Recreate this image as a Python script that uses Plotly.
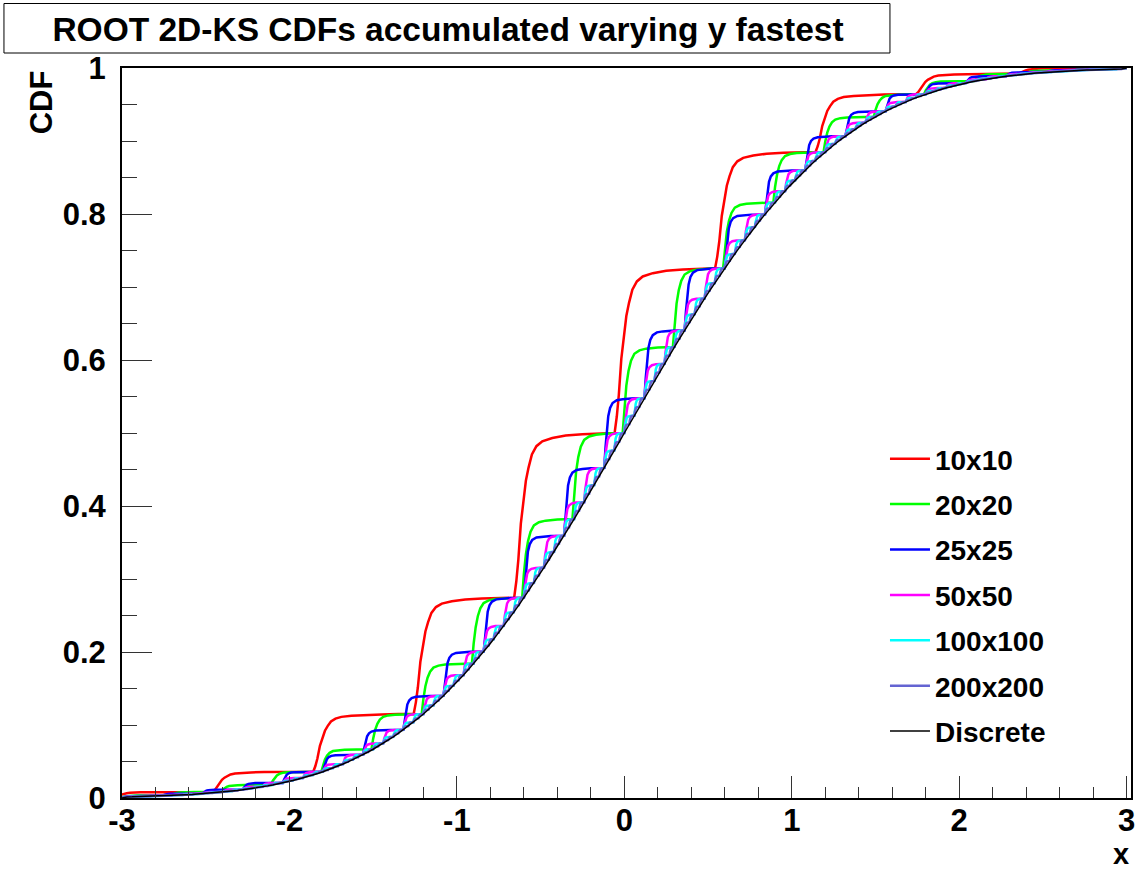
import numpy as np
import plotly.graph_objects as go

# ---------------- data ----------------
# Discrete CDF, sampled every 0.03 from x=-3 to x=3
disc_x = np.round(np.arange(201) * 0.03 - 3.0, 2)
disc_y = [
    0.0000, 0.0015, 0.0016, 0.0018, 0.0020, 0.0022, 0.0024, 0.0026, 0.0029, 0.0032,
    0.0035, 0.0038, 0.0041, 0.0045, 0.0049, 0.0054, 0.0059, 0.0064, 0.0069, 0.0075,
    0.0082, 0.0089, 0.0096, 0.0104, 0.0113, 0.0122, 0.0132, 0.0143, 0.0154, 0.0166,
    0.0179, 0.0192, 0.0207, 0.0222, 0.0239, 0.0256, 0.0274, 0.0294, 0.0314, 0.0336,
    0.0359, 0.0384, 0.0409, 0.0436, 0.0465, 0.0495, 0.0526, 0.0559, 0.0594, 0.0630,
    0.0668, 0.0708, 0.0749, 0.0793, 0.0838, 0.0885, 0.0934, 0.0985, 0.1038, 0.1093,
    0.1151, 0.1210, 0.1271, 0.1335, 0.1401, 0.1469, 0.1539, 0.1611, 0.1685, 0.1762,
    0.1841, 0.1922, 0.2005, 0.2090, 0.2177, 0.2266, 0.2358, 0.2451, 0.2546, 0.2643,
    0.2743, 0.2843, 0.2946, 0.3050, 0.3156, 0.3264, 0.3372, 0.3483, 0.3594, 0.3707,
    0.3821, 0.3936, 0.4052, 0.4168, 0.4286, 0.4404, 0.4522, 0.4641, 0.4761, 0.4880,
    0.5000,
    0.5120, 0.5239, 0.5359, 0.5478, 0.5596, 0.5714, 0.5832, 0.5948, 0.6064, 0.6179,
    0.6293, 0.6406, 0.6517, 0.6628, 0.6736, 0.6844, 0.6950, 0.7054, 0.7157, 0.7257,
    0.7357, 0.7454, 0.7549, 0.7642, 0.7734, 0.7823, 0.7910, 0.7995, 0.8078, 0.8159,
    0.8238, 0.8315, 0.8389, 0.8461, 0.8531, 0.8599, 0.8665, 0.8729, 0.8790, 0.8849,
    0.8907, 0.8962, 0.9015, 0.9066, 0.9115, 0.9162, 0.9207, 0.9251, 0.9292, 0.9332,
    0.9370, 0.9406, 0.9441, 0.9474, 0.9505, 0.9535, 0.9564, 0.9591, 0.9616, 0.9641,
    0.9664, 0.9686, 0.9706, 0.9726, 0.9744, 0.9761, 0.9778, 0.9793, 0.9808, 0.9821,
    0.9834, 0.9846, 0.9857, 0.9868, 0.9878, 0.9887, 0.9896, 0.9904, 0.9911, 0.9918,
    0.9925, 0.9931, 0.9936, 0.9941, 0.9946, 0.9951, 0.9955, 0.9959, 0.9962, 0.9965,
    0.9968, 0.9971, 0.9974, 0.9976, 0.9978, 0.9980, 0.9982, 0.9984, 0.9985, 1.0000,
]

series_names = ["10x10", "20x20", "25x25", "50x50", "100x100", "200x200"]
grid_sizes = [10, 20, 25, 50, 100, 200]

x_tick_vals = [-3, -2, -1, 0, 1, 2, 3]
x_tick_text = ["-3", "-2", "-1", "0", "1", "2", "3"]
y_tick_vals = [0, 0.2, 0.4, 0.6, 0.8, 1]
y_tick_text = ["0", "0.2", "0.4", "0.6", "0.8", "1"]

# shape of one accumulated step (offset from the bin edge, fraction of the step), read per series
step_dx = {
    "10x10":   [-0.058, -0.045, -0.033, -0.018, -0.003, 0.012, 0.028, 0.048, 0.075, 0.11, 0.17, 0.25, 0.35, 0.45],
    "20x20":   [-0.010, 0.000, 0.012, 0.025, 0.040, 0.060, 0.090, 0.130, 0.200],
    "25x25":   [0.000, 0.008, 0.015, 0.024, 0.035, 0.050, 0.075, 0.110, 0.160],
    "50x50":   [0.000, 0.006, 0.012, 0.020, 0.030, 0.045, 0.070],
    "100x100": [0.000, 0.004, 0.008, 0.014, 0.022, 0.035],
    "200x200": [0.000, 0.003, 0.006, 0.010, 0.016],
}
step_f = {
    "10x10":   [0.0, 0.10, 0.23, 0.45, 0.60, 0.71, 0.79, 0.87, 0.92, 0.95, 0.97, 0.985, 0.993, 0.998],
    "20x20":   [0.0, 0.30, 0.55, 0.72, 0.84, 0.92, 0.96, 0.98, 0.993],
    "25x25":   [0.0, 0.30, 0.55, 0.74, 0.86, 0.93, 0.97, 0.985, 0.995],
    "50x50":   [0.0, 0.35, 0.62, 0.80, 0.90, 0.96, 0.99],
    "100x100": [0.0, 0.40, 0.68, 0.85, 0.94, 0.98],
    "200x200": [0.0, 0.45, 0.72, 0.88, 0.96],
}

colors = {
    "10x10": "#ff0000", "20x20": "#00ff00", "25x25": "#0000ff",
    "50x50": "#ff00ff", "100x100": "#00ffff", "200x200": "#6464d2",
}

FONT = "Liberation Sans, Arial, Helvetica, sans-serif"


def step_curve(n, name):
    stride = 200 // n
    edges = disc_x[::stride]
    levels = disc_y[::stride]
    xs, ys = [], []
    for k in range(len(edges) - 1):
        lo, hi = levels[k], levels[k + 1]
        nxt = edges[k + 1] + step_dx[name][0] if k + 1 < len(edges) - 1 else edges[-1]
        for dx, f in zip(step_dx[name], step_f[name]):
            x = edges[k] + dx
            if x < nxt:
                xs.append(x)
                ys.append(lo + f * (hi - lo))
    xs.append(edges[-1])
    ys.append(levels[-1])
    return xs, ys


fig = go.Figure()
for name, n in zip(series_names, grid_sizes):
    xs, ys = step_curve(n, name)
    fig.add_trace(go.Scatter(
        x=xs, y=ys, mode="lines", name=name, legendgroup=name,
        line=dict(color=colors[name], width=2.5),
    ))
fig.add_trace(go.Scatter(
    x=disc_x, y=disc_y, mode="lines", name="Discrete", legendgroup="Discrete",
    line=dict(color="#000000", width=1.5),
))

W, H = 1144, 872
L, R, T, B = 122, 9, 68, 74
pw, ph = W - L - R, H - T - B


def px_x(p):
    return (p - L) / pw


def px_y(p):
    return (H - B - p) / ph


fig.update_layout(
    width=W, height=H,
    margin=dict(l=L, r=R, t=T, b=B),
    paper_bgcolor="white", plot_bgcolor="white",
    font=dict(family=FONT, color="black"),
    title=dict(
        text="ROOT 2D-KS CDFs accumulated varying y fastest",
        x=448 / W, xanchor="center", y=1 - 29 / H, yanchor="middle",
        font=dict(family=FONT, size=33.5, weight="bold", color="black"),
    ),
    showlegend=True,
    legend=dict(
        x=px_x(888), y=px_y(434), xanchor="left", yanchor="top",
        bgcolor="rgba(0,0,0,0)", borderwidth=0,
        font=dict(family=FONT, size=28, weight="bold", color="black"),
        traceorder="grouped", tracegroupgap=6, itemwidth=40,
    ),
    shapes=[dict(
        type="rect", xref="paper", yref="paper",
        x0=px_x(3.5), x1=px_x(893), y0=px_y(53), y1=px_y(3.5),
        line=dict(color="black", width=1), fillcolor="rgba(0,0,0,0)",
    )],
    annotations=[
        dict(text="CDF", xref="paper", yref="paper", x=px_x(41), y=px_y(102),
             xanchor="center", yanchor="middle", textangle=-90, showarrow=False,
             font=dict(family=FONT, size=31, weight="bold", color="black")),
        dict(text="x", xref="paper", yref="paper", x=px_x(1125), y=px_y(871),
             xanchor="center", yanchor="bottom", showarrow=False, borderpad=0,
             font=dict(family=FONT, size=29, weight="bold", color="black")),
    ],
)

fig.update_xaxes(
    range=[-3.0, 3.026], showgrid=False, zeroline=False,
    showline=True, linecolor="black", linewidth=2, mirror=True,
    ticks="inside", ticklen=22, tickwidth=1, tickcolor="#333333",
    tickmode="array", tickvals=x_tick_vals, ticktext=x_tick_text,
    minor=dict(ticks="inside", ticklen=11, tickwidth=1, tickcolor="#333333", dtick=0.2, tick0=-3, showgrid=False),
    tickfont=dict(family=FONT, size=31, weight="bold", color="black"),
    ticklabelstandoff=-6,
)
fig.update_yaxes(
    range=[0, 1], showgrid=False, zeroline=False,
    showline=True, linecolor="black", linewidth=2, mirror=True,
    ticks="inside", ticklen=30, tickwidth=1, tickcolor="#333333",
    tickmode="array", tickvals=y_tick_vals, ticktext=y_tick_text,
    minor=dict(ticks="inside", ticklen=15, tickwidth=1, tickcolor="#333333", dtick=0.05, tick0=0, showgrid=False),
    tickfont=dict(family=FONT, size=31, weight="bold", color="black"),
    ticklabelstandoff=8,
)

fig.write_html("out.html")
